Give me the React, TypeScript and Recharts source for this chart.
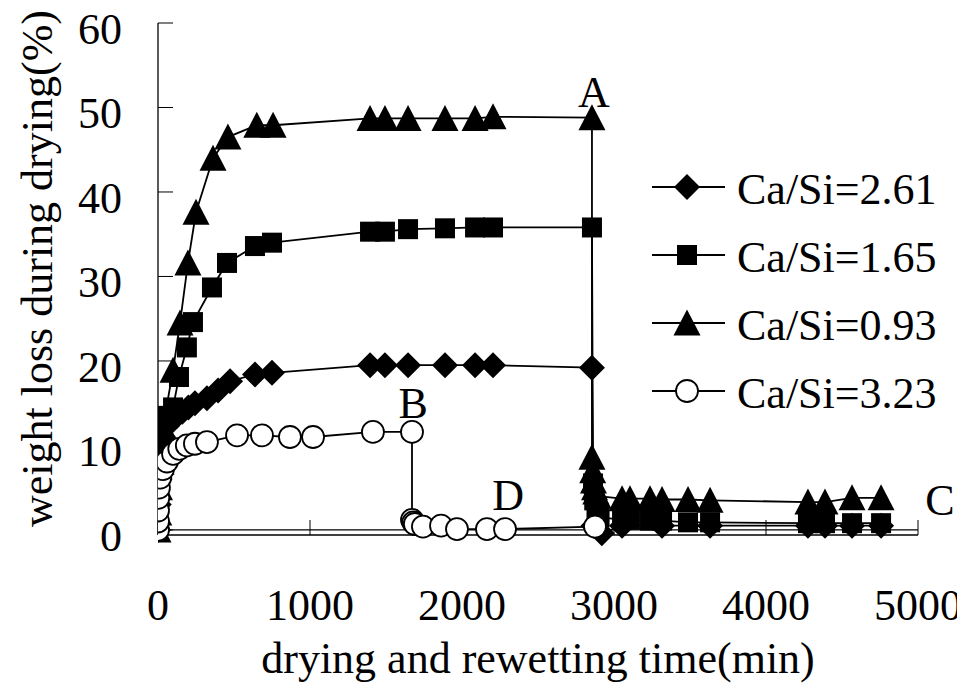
import React from 'react';
import {
  LineChart,
  Line,
  XAxis,
  YAxis,
  Legend,
  ReferenceLine,
  ReferenceDot,
  Label,
} from 'recharts';

const FONT = "'Times New Roman', Tinos, 'Liberation Serif', serif";
const FS = 44;
const textStyle = { fontFamily: FONT, fontSize: FS };

const xTicks = [0, 1000, 2000, 3000, 4000, 5000];
const yTicks = [0, 10, 20, 30, 40, 50, 60];

const seriesNames = ['Ca/Si=2.61', 'Ca/Si=1.65', 'Ca/Si=0.93', 'Ca/Si=3.23'];

// Ca/Si=2.61 (diamonds)
const timeCa261 = [0, 5, 10, 20, 33, 59, 92, 125, 160, 200, 243, 322, 395, 474, 638, 750, 1395, 1493, 1645, 1888, 2086, 2204, 2855, 2865, 2920, 3053, 3316, 3632, 4276, 4388, 4566, 4757];
const lossCa261 = [0, 3, 6, 9, 11.0, 12.3, 13.0, 13.5, 14.0, 14.5, 15.0, 15.6, 16.5, 17.6, 18.4, 18.6, 19.5, 19.5, 19.5, 19.5, 19.5, 19.5, 19.2, 0.5, -0.4, 0.5, 0.5, 0.5, 0.5, 0.5, 0.5, 0.5];

// Ca/Si=1.65 (squares)
const timeCa165 = [0, 5, 10, 20, 33, 59, 99, 138, 190, 230, 355, 454, 638, 750, 1395, 1493, 1645, 1888, 2086, 2204, 2855, 2862, 2870, 2885, 2905, 3053, 3105, 3237, 3316, 3487, 3632, 4276, 4388, 4566, 4757];
const lossCa165 = [0, 3, 6, 9, 11.5, 13.5, 14.5, 18.1, 21.6, 24.6, 28.7, 31.6, 33.6, 34.0, 35.3, 35.3, 35.6, 35.7, 35.8, 35.8, 35.8, 5.5, 3.5, 2.0, 1.5, 1.2, 1.2, 1.1, 1.1, 0.9, 0.9, 0.8, 0.8, 0.8, 0.8];

// Ca/Si=0.93 (triangles)
const timeCa093 = [0, 5, 10, 20, 33, 99, 145, 197, 250, 362, 460, 650, 757, 1395, 1493, 1645, 1888, 2086, 2204, 2855, 2855, 2860, 2865, 2872, 2880, 2895, 3053, 3105, 3237, 3316, 3487, 3632, 4276, 4388, 4566, 4757];
const lossCa093 = [0, 2, 5, 8, 12.2, 18.9, 24.5, 31.6, 37.6, 44.0, 46.5, 47.9, 47.9, 48.7, 48.7, 48.7, 48.7, 48.7, 48.9, 48.8, 8.6, 7.0, 5.8, 5.0, 4.5, 4.0, 3.7, 3.7, 3.7, 3.6, 3.6, 3.5, 3.3, 3.3, 3.8, 3.8];

// Ca/Si=3.23 (open circles)
const timeCa323 = [0, 0, 0, 2, 6, 15, 33, 59, 99, 140, 190, 243, 322, 520, 684, 868, 1020, 1414, 1671, 1671, 1680, 1690, 1743, 1862, 1967, 2164, 2283, 2875];
const lossCa323 = [0, 1.0, 2.3, 3.8, 5.0, 6.2, 7.2, 8.1, 9.0, 9.6, 10.0, 10.2, 10.4, 11.2, 11.2, 11.0, 11.0, 11.6, 11.6, 1.2, 0.9, 0.7, 0.4, 0.5, 0.1, 0.1, 0.1, 0.4];

// point annotations
const annotationLabels = ['A', 'B', 'C', 'D'];
const annotationTime = [2868, 1678, 5145, 2303];
const annotationLoss = [51.8, 15.0, 3.5, 4.1];

const toData = (t: number[], v: number[]) => t.map((x, i) => ({ x, y: v[i] }));

const diamondMarker = (cx: number, cy: number) => (
  <polygon points={`${cx},${cy - 13} ${cx + 13},${cy} ${cx},${cy + 13} ${cx - 13},${cy}`} fill="#000" />
);
const squareMarker = (cx: number, cy: number) => (
  <rect x={cx - 10} y={cy - 10} width={20} height={20} fill="#000" />
);
const triangleMarker = (cx: number, cy: number) => (
  <polygon points={`${cx},${cy - 13.5} ${cx + 13.5},${cy + 12.5} ${cx - 13.5},${cy + 12.5}`} fill="#000" />
);
const circleMarker = (cx: number, cy: number) => (
  <circle cx={cx} cy={cy} r={11} fill="#fff" stroke="#000" strokeWidth={1.8} />
);

const markers = [diamondMarker, squareMarker, triangleMarker, circleMarker];
const seriesData = [
  toData(timeCa261, lossCa261),
  toData(timeCa165, lossCa165),
  toData(timeCa093, lossCa093),
  toData(timeCa323, lossCa323),
];

const makeDot = (shape: (cx: number, cy: number) => React.ReactElement) => (props: any) => {
  const { cx, cy, index } = props;
  if (cx == null || cy == null) return <g key={`dot-${index}`} />;
  return <g key={`dot-${index}`}>{shape(cx, cy)}</g>;
};

const LegendContent = () => (
  <svg width={310} height={270} style={{ overflow: 'visible' }}>
    {seriesNames.map((name, i) => {
      const y = 25 + i * 68;
      return (
        <g key={name}>
          <line x1={12} x2={85} y1={y} y2={y} stroke="#000" strokeWidth={1.8} />
          {markers[i](47, y)}
          <text x={97} y={y + 17} style={textStyle} fill="#000">
            {name}
          </text>
        </g>
      );
    })}
  </svg>
);

const YTitle = (props: any) => {
  const vb = props.viewBox || { x: 0, y: 0 };
  const x = vb.x + 44;
  const y = 527;
  return (
    <text transform={`translate(${x},${y}) rotate(-90)`} textAnchor="start" style={textStyle} fill="#000">
      weight loss during drying(%)
    </text>
  );
};

const XTitle = (props: any) => {
  const vb = props.viewBox || { x: 0, y: 0, width: 0 };
  return (
    <text x={vb.x + vb.width / 2} y={673} textAnchor="middle" style={textStyle} fill="#000">
      drying and rewetting time(min)
    </text>
  );
};

export default function App() {
  return (
    <div style={{ margin: '-8px 0 0 -8px', fontFamily: FONT }}>
      <LineChart width={965} height={692} margin={{ top: 23, right: 47, bottom: 0, left: 8 }}>
        <XAxis
          type="number"
          dataKey="x"
          domain={[0, 5000]}
          ticks={xTicks}
          allowDataOverflow
          height={157}
          tickSize={-15}
          tickMargin={69}
          axisLine={{ stroke: '#000', strokeWidth: 1.3 }}
          tickLine={{ stroke: '#000', strokeWidth: 1 }}
          tick={{ fill: '#000', fontSize: FS, fontFamily: FONT, style: textStyle }}
          interval={0}
        >
          <Label content={XTitle} />
        </XAxis>
        <YAxis
          type="number"
          dataKey="y"
          domain={[-0.6, 60]}
          ticks={yTicks}
          width={150}
          tickSize={-15}
          tickMargin={51}
          axisLine={{ stroke: '#000', strokeWidth: 1.3 }}
          tickLine={{ stroke: '#000', strokeWidth: 1 }}
          tick={{ fill: '#000', fontSize: FS, fontFamily: FONT, style: textStyle, dy: 5 }}
          interval={0}
        >
          <Label content={YTitle} />
        </YAxis>
        <ReferenceLine y={0} stroke="#000" strokeWidth={1.3} />
        {seriesNames.map((name, i) => (
          <Line
            key={name}
            name={name}
            data={seriesData[i]}
            dataKey="y"
            type="linear"
            stroke="#000"
            strokeWidth={1.8}
            dot={makeDot(markers[i])}
            activeDot={false}
            isAnimationActive={false}
          />
        ))}
        {annotationLabels.map((t, i) => (
          <ReferenceDot
            key={t}
            x={annotationTime[i]}
            y={annotationLoss[i]}
            r={0}
            ifOverflow="visible"
            shape={(p: any) => (
              <text x={p.cx} y={p.cy} dy={15} textAnchor="middle" style={textStyle} fill="#000">
                {t}
              </text>
            )}
          />
        ))}
        <Legend
          layout="vertical"
          align="center"
          verticalAlign="middle"
          content={LegendContent}
          wrapperStyle={{ position: 'absolute', left: 640, top: 162, width: 310, height: 270 }}
        />
      </LineChart>
    </div>
  );
}
